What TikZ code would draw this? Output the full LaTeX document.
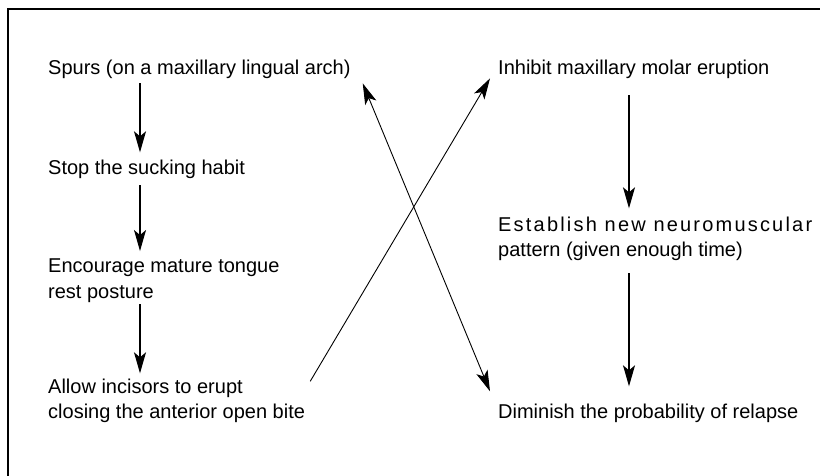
\documentclass[tikz,border=0pt]{standalone}
\usepackage{fontspec}
\setmainfont{Liberation Sans}
\usepackage{tikz}
\usetikzlibrary{arrows.meta}

\tikzset{
  phase/.style={anchor=base west, inner sep=0pt, align=left, font=\fontsize{20}{25}\selectfont},
  flow/.style={line width=1.1pt, -{Stealth[length=21pt, width=12pt, inset=5pt]}},
  cross/.style={line width=0.9pt}
}

\begin{document}
\begin{tikzpicture}[x=1pt, y=-1pt]
  \useasboundingbox (0,0) rectangle (820,476);
  \draw[line width=1.4pt] (8,476) -- (8,9) -- (820,9);

  % left column
  \node[phase] (spurs) at (48,75) {Spurs (on a maxillary lingual arch)};
  \node[phase] (stop) at (48,175) {Stop the sucking habit};
  \node[phase] (tongue) at (48,298) {Encourage mature tongue\\rest posture};
  \node[phase] (erupt) at (48,418) {Allow incisors to erupt\\closing the anterior open bite};

  % right column
  \node[phase] (inhibit) at (498,75) {Inhibit maxillary molar eruption};
  \node[phase] (pattern) at (498,256) {\addfontfeature{LetterSpace=11}Establish new neuromuscular\\pattern (given enough time)};
  \node[phase] (relapse) at (498,418) {Diminish the probability of relapse};

  \draw[flow, shorten <=4pt, shorten >=8pt] ([xshift=92pt]spurs.south west) -- ([xshift=92pt]stop.north west);
  \draw[flow, shorten <=6pt, shorten >=8pt] ([xshift=92pt]stop.south west) -- ([xshift=92pt]tongue.north west);
  \draw[flow, shorten <=2pt, shorten >=5pt] ([xshift=92pt]tongue.south west) -- ([xshift=92pt]erupt.north west);
  \draw[flow, shorten <=16pt, shorten >=8pt] ([xshift=131pt]inhibit.south west) -- ([xshift=131pt]pattern.north west);
  \draw[flow, shorten <=13pt, shorten >=17pt] ([xshift=131pt]pattern.south west) -- ([xshift=131pt]relapse.north west);

  \draw[cross, -{Stealth[length=21pt, width=12pt, inset=5pt]}] ([xshift=5pt, yshift=-3pt]erupt.north east) -- ([xshift=-8pt, yshift=1pt]inhibit.south west);
  \draw[cross, {Stealth[length=21pt, width=12pt, inset=5pt]}-{Stealth[length=21pt, width=12pt, inset=5pt]}] ([xshift=12pt, yshift=-4pt]spurs.south east) -- ([xshift=-8pt, yshift=12pt]relapse.north west);
\end{tikzpicture}
\end{document}
